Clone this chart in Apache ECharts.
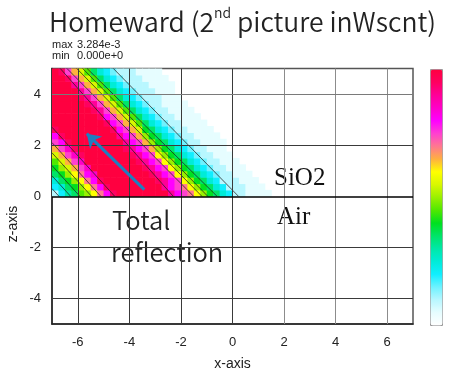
<!DOCTYPE html>
<html><head><meta charset="utf-8">
<script src="https://cdn.jsdelivr.net/npm/echarts@6.0.0/dist/echarts.min.js"></script>
<style>html,body{margin:0;padding:0;background:#fff}#c{width:449px;height:376px}</style>
</head><body><div id="c"></div>
<script>
// ---- axis ticks / ranges ----
const xTicks = [-6, -4, -2, 0, 2, 4, 6];
const zTicks = [-4, -2, 0, 2, 4];
const xRange = [-7, 7];
const zRange = [-5, 5];
// ---- field value range (x1e-3) ----
const valueMin = 0;
const valueMax = 3.284;
const levelChars = '0123456789ABCDEFGHIJK'; // level 0..20 of valueMax
const levelCount = 20;
const cellStep = 0.25;
const xFirstCell = -6.875;
const zFirstCell = 0.125;
const fieldRows = [
  '24679ACEGJKKKKKKKKIGFECA8754221111',
  '4578ACEGJKKKKKKKKIGFECA8754222111',
  '578ACEGJKKKKKKKKJIGFCA8754222111',
  '78ACEGHKKKKKKKKJIGFCA8754322111',
  '8ABDFHKKKKKKKKJIGFCA8754322111',
  '9BDFHKKKKKKKKJIGFCA8754322111',
  'BDFHJKKKKKKKJIGFCA8754322111',
  'DFHJKKKKKKKJIGFDA8754322111',
  'FGJKKKKKKKKIGFDA87543221111',
  'GJKKKKKKKKIGFDA87543221111',
  'JKKKKKKKKJGFDB87543221111',
  'KKKKKKKKJGFDB97543221111',
  'KKKKKKKJGFDB97543221111',
  'KKKKKKJIFDB97543221111',
  'KKKKKJIFDB97543221111',
  'KKKKJIFDB97543222111',
  'KKKKIFDB97543222111',
  'KKKIFDB975432221111',
  'KKJFDB975432221111',
  'KJFDB975432221111'
];
// ---- contour lines (x,z end points) ----
const upperContours = [
  [[-2.3, 0], [-6.68, 5]],
  [[-1.51, 0], [-6.42, 5]],
  [[-1.19, 0], [-6.04, 5]],
  [[-0.96, 0], [-5.81, 5]],
  [[-0.6, 0], [-5.64, 5]],
  [[0.23, 0], [-4.62, 5]]
];
const lowerContours = [
  [[-7, 2.7], [-4.57, 0]],
  [[-7, 2.1], [-5.11, 0]],
  [[-7, 1.7], [-5.47, 0]],
  [[-7, 1.2], [-5.92, 0]],
  [[-7, 0.8], [-6.28, 0]],
  [[-7, 0.3], [-6.73, 0]]
];
const arrowPath = [[-3.42, 0.26], [-5.65, 2.45]];
const colorScale = ['#ffffff','#e6fdff','#b8f7ff','#6ff2ff','#10eeff','#00ecd8','#00e8a8','#00e468','#00e020','#50e800','#98f000','#d8f800','#ffff00','#ffb040','#ff7890','#ff40d0','#ff00ff','#ff00c8','#ff0098','#ff0060','#ff0040'];

const cells = [];
fieldRows.forEach((row, j) => {
  for (let i = 0; i < row.length; i++) {
    const lvl = levelChars.indexOf(row[i]);
    cells.push([xFirstCell + i * cellStep, zFirstCell + j * cellStep, lvl / levelCount * valueMax]);
  }
});

const gridLines = [];
xTicks.forEach(x => gridLines.push({coords: [[x, zRange[0]], [x, zRange[1]]], lineStyle: {color: x > 0 ? '#8c8c8c' : '#3a3a3a'}}));
zTicks.filter(z => z !== 0).forEach(z => gridLines.push({coords: [[xRange[0], z], [xRange[1], z]], lineStyle: {color: z === 4 ? '#7a7a7a' : '#3a3a3a'}}));

const chart = echarts.init(document.getElementById('c'), null, {renderer: 'canvas'});
const labelFont = 'Liberation Sans';
const jpFont = '"Noto Sans CJK JP", "Noto Sans", sans-serif';
chart.setOption({
  animation: false,
  backgroundColor: '#fff',
  grid: {left: 52, top: 68.5, width: 361, height: 258, show: true, borderColor: '#555', borderWidth: 1.5, backgroundColor: 'transparent'},
  xAxis: {
    type: 'value', min: xRange[0], max: xRange[1], interval: 1,
    axisLine: {show: true, onZero: false, lineStyle: {color: '#222', width: 1.5}},
    axisTick: {show: false}, splitLine: {show: false},
    axisLabel: {formatter: v => xTicks.includes(v) ? String(v) : '', color: '#222', fontSize: 13, fontFamily: labelFont, margin: 12},
    name: 'x-axis', nameLocation: 'middle', nameGap: 33,
    nameTextStyle: {fontSize: 14, color: '#222', fontFamily: labelFont}
  },
  yAxis: {
    type: 'value', min: zRange[0], max: zRange[1], interval: 1,
    axisLine: {show: true, onZero: false, lineStyle: {color: '#222', width: 1.5}},
    axisTick: {show: false}, splitLine: {show: false},
    axisLabel: {formatter: v => zTicks.includes(v) ? String(v) : '', color: '#222', fontSize: 13, fontFamily: labelFont, margin: 11}
  },
  visualMap: {
    type: 'continuous', min: valueMin, max: valueMax, seriesIndex: 0, dimension: 2,
    inRange: {color: colorScale}, left: 430, top: 69, itemWidth: 12, itemHeight: 256,
    showLabel: false, calculable: false, hoverLink: false, padding: 0,
    borderColor: '#999', borderWidth: 1
  },
  series: [
    {
      type: 'custom', data: cells, encode: {x: 0, y: 1}, silent: true,
      renderItem: function (params, api) {
        const x = api.value(0), z = api.value(1);
        const p0 = api.coord([x - cellStep / 2, z + cellStep / 2]);
        const p1 = api.coord([x + cellStep / 2, z - cellStep / 2]);
        return {type: 'rect', shape: {x: p0[0], y: p0[1], width: p1[0] - p0[0] + 0.6, height: p1[1] - p0[1] + 0.6}, style: {fill: api.visual('color')}};
      }
    },
    {
      type: 'lines', coordinateSystem: 'cartesian2d', silent: true,
      data: upperContours.concat(lowerContours).map(c => ({coords: c})),
      lineStyle: {color: '#202020', width: 1, opacity: 0.75}
    },
    {
      type: 'lines', coordinateSystem: 'cartesian2d', silent: true,
      data: gridLines, lineStyle: {width: 1, opacity: 1}
    },
    {
      type: 'lines', coordinateSystem: 'cartesian2d', silent: true,
      data: [{coords: [[xRange[0], 0], [xRange[1], 0]]}],
      lineStyle: {color: '#000', width: 1.6, opacity: 1}
    },
    {
      type: 'lines', coordinateSystem: 'cartesian2d', silent: true,
      symbol: ['none', 'arrow'], symbolSize: 13,
      data: [{coords: arrowPath}],
      lineStyle: {color: '#1f7fc0', width: 3, opacity: 1}
    }
  ],
  graphic: [
    {type: 'text', left: 49, top: 6, style: {
      text: '{a|Homeward (2}{s|nd}{a| picture inWscnt)}',
      rich: {a: {fontSize: 26.5, fontWeight: 350, fontFamily: jpFont, fill: '#222', lineHeight: 32}, s: {fontSize: 14, fontWeight: 350, fontFamily: jpFont, fill: '#222', verticalAlign: 'top', lineHeight: 32, padding: [0,0,12,0]}}
    }},
    {type: 'text', x: 52, y: 45, style: {text: 'max', fontSize: 11, fontFamily: labelFont, fill: '#222', verticalAlign: 'middle'}},
    {type: 'text', x: 77, y: 45, style: {text: '3.284e-3', fontSize: 11, fontFamily: labelFont, fill: '#222', verticalAlign: 'middle'}},
    {type: 'text', x: 52, y: 56, style: {text: 'min', fontSize: 11, fontFamily: labelFont, fill: '#222', verticalAlign: 'middle'}},
    {type: 'text', x: 77, y: 56, style: {text: '0.000e+0', fontSize: 11, fontFamily: labelFont, fill: '#222', verticalAlign: 'middle'}},
    {type: 'text', x: 274, y: 178, style: {text: 'SiO2', fontSize: 25, fontFamily: 'Liberation Serif', fill: '#111', verticalAlign: 'middle'}},
    {type: 'text', x: 277, y: 217, style: {text: 'Air', fontSize: 25, fontFamily: 'Liberation Serif', fill: '#111', verticalAlign: 'middle'}},
    {type: 'text', x: 112, y: 220, style: {text: 'Total', fontSize: 25.5, fontWeight: 350, fontFamily: jpFont, fill: '#222', verticalAlign: 'middle'}},
    {type: 'text', x: 111, y: 252, style: {text: 'reflection', fontSize: 25.5, fontWeight: 350, fontFamily: jpFont, fill: '#222', verticalAlign: 'middle'}},
    {type: 'text', x: 13, y: 224, rotation: Math.PI / 2, style: {text: 'z-axis', fontSize: 14, fontFamily: labelFont, fill: '#222', align: 'center', verticalAlign: 'middle'}}
  ]
});
</script>
</body></html>
